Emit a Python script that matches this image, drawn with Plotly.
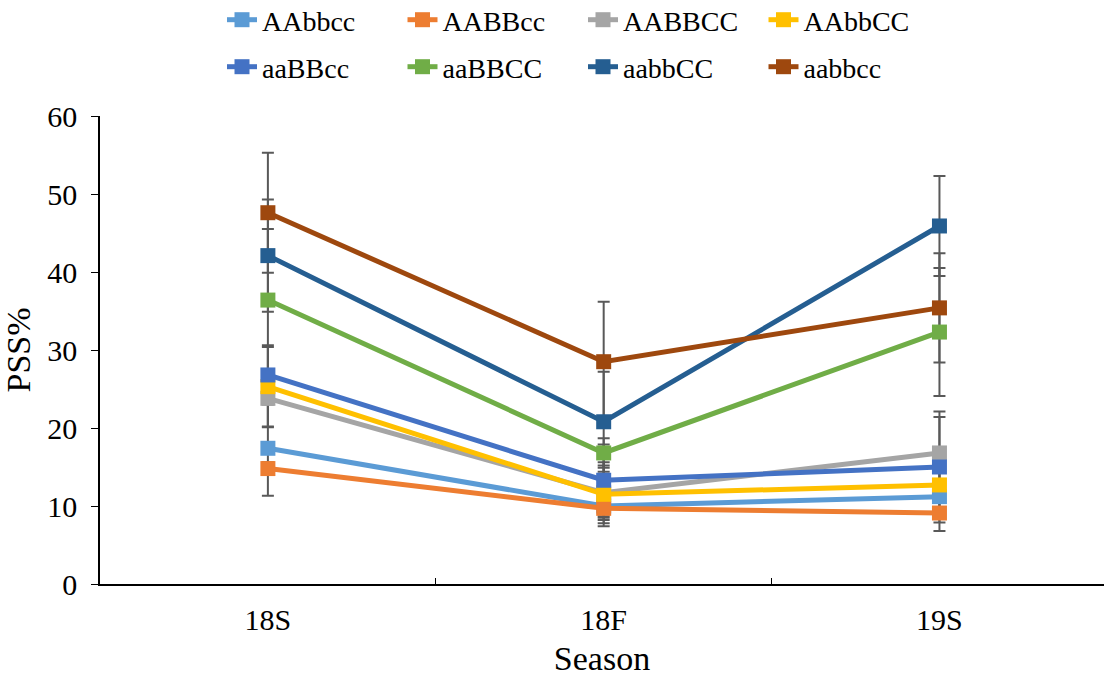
import plotly.graph_objects as go

seasons = ["18S", "18F", "19S"]
series_names = ["AAbbcc", "AABBcc", "AABBCC", "AAbbCC", "aaBBcc", "aaBBCC", "aabbCC", "aabbcc"]
colors = ["#5B9BD5", "#ED7D31", "#A5A5A5", "#FFC000", "#4472C4", "#70AD47", "#255E91", "#9E480E"]

AAbbcc = [17.4, 10.0, 11.2]
AABBcc = [14.8, 9.7, 9.1]
AABBCC = [23.8, 11.7, 16.8]
AAbbCC = [25.3, 11.5, 12.7]
aaBBcc = [26.8, 13.3, 15.0]
aaBBCC = [36.4, 16.8, 32.3]
aabbCC = [42.1, 20.8, 45.9]
aabbcc = [47.6, 28.5, 35.4]

err_AAbbcc = [6.1, 2.2, 0.8]
err_AABBcc = [0.8, 1.2, 2.3]
err_AABBCC = [3.7, 3.5, 5.3]
err_AAbbCC = [5.1, 4.1, 4.8]
err_aaBBcc = [3.8, 4.6, 6.4]
err_aaBBCC = [9.1, 1.9, 8.2]
err_aabbCC = [7.2, 6.4, 6.4]
err_aabbcc = [7.7, 7.7, 7.0]

values = [AAbbcc, AABBcc, AABBCC, AAbbCC, aaBBcc, aaBBCC, aabbCC, aabbcc]
errors = [err_AAbbcc, err_AABBcc, err_AABBCC, err_AAbbCC, err_aaBBcc, err_aaBBCC, err_aabbCC, err_aabbcc]

FONT = "Liberation Serif"
fig = go.Figure()

# error bars underneath all lines/markers
for name, vals, errs in zip(series_names, values, errors):
    fig.add_trace(go.Scatter(
        x=seasons, y=vals, mode="markers", showlegend=False, hoverinfo="skip",
        marker=dict(size=2, color="#595959", opacity=0),
        error_y=dict(type="data", array=errs, visible=True, color="#595959",
                     thickness=2, width=6),
    ))

for i, (name, vals, col) in enumerate(zip(series_names, values, colors)):
    fig.add_trace(go.Scatter(
        x=seasons, y=vals, name=name, mode="lines+markers",
        line=dict(color=col, width=5),
        marker=dict(symbol="square", size=15, color=col),
        legend="legend" if i < 4 else "legend2",
    ))

legend_common = dict(
    orientation="h", xref="container", yref="container",
    x=222 / 1104, xanchor="left", yanchor="middle",
    entrywidth=135.5, entrywidthmode="pixels",
    bgcolor="rgba(0,0,0,0)", borderwidth=0,
    itemclick=False, itemdoubleclick=False,
)

fig.update_layout(
    width=1104, height=677,
    margin=dict(l=100, r=0, t=116, b=93, autoexpand=False),
    paper_bgcolor="white", plot_bgcolor="white",
    font=dict(family=FONT, size=28, color="#000000"),
    legend=dict(legend_common, y=1 - 20 / 677),
    legend2=dict(legend_common, y=1 - 67 / 677),
    xaxis=dict(
        type="category", range=[-0.5, 2.49], automargin=False,
        showline=True, linecolor="#000000", linewidth=1.5,
        ticks="inside", tickson="boundaries", ticklen=6, tickcolor="#000000", tickwidth=1,
        showgrid=False, zeroline=False,
        tickfont=dict(size=30),
        ticklabelstandoff=8,
        title=dict(text="Season", standoff=12),
    ),
    yaxis=dict(
        range=[0, 60], dtick=10, tick0=0, automargin=False,
        showline=True, linecolor="#000000", linewidth=1.5,
        ticks="outside", ticklen=7, tickcolor="#000000", tickwidth=1,
        showgrid=False, zeroline=False,
        tickfont=dict(size=30),
        ticklabelstandoff=8,
        title=dict(text="PSS%", standoff=12),
    ),
)

fig.write_html("out.html", config={"displayModeBar": False},
               post_script="document.body.style.margin='0';")
